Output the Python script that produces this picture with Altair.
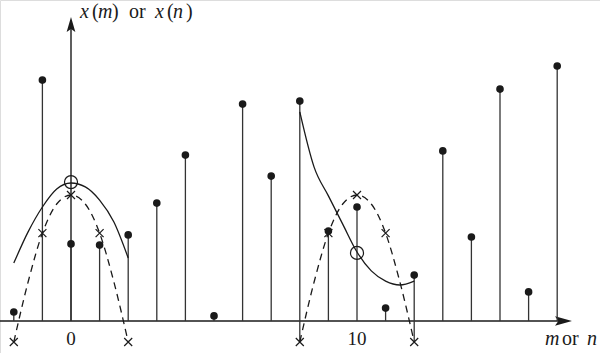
import altair as alt
import pandas as pd

# ---- data ----
stem_n = list(range(-2, 18))
stem_val = [0.30, 8.03, 2.57, 2.53, 2.87, 3.93, 5.53, 0.17, 7.23, 4.83,
            7.33, 3.0, 3.8, 0.43, 1.53, 5.67, 2.8, 7.73, 0.97, 8.5]

drop_n = [8, 12]
drop_low = [-0.7, -0.7]

win_left_n = [-2, -1.5, -1, -0.5, 0, 0.5, 1, 1.5, 2]
win_right_n = [8, 8.5, 9, 9.5, 10, 10.5, 11, 11.5, 12]
win_val = [-0.7, 1.3, 2.93, 3.9, 4.2, 3.9, 2.93, 1.3, -0.7]

mark_left_n = [-2, -1, 0, 1, 2]
mark_right_n = [8, 9, 10, 11, 12]
mark_val = [-0.7, 2.93, 4.2, 2.93, -0.7]

curve_left_n = [-2, -1.5, -1, -0.5, 0, 0.5, 1, 1.5, 2]
curve_left_val = [1.93, 2.97, 3.8, 4.4, 4.6, 4.47, 4.03, 3.3, 2.1]
curve_right_n = [8, 8.5, 9, 9.5, 10, 10.5, 11, 11.5, 12]
curve_right_val = [6.97, 5.13, 4.17, 3.23, 2.3, 1.67, 1.33, 1.2, 1.33]

circle_n = [0, 10]
circle_val = [4.63, 2.27]

tick_n = [0, 10]
tick_text = ["0", "10"]

# axis label pieces (text, style)
ylab_text = ["x", "(", "m", ")", "or", "x", "(", "n", ")"]
ylab_style = ["italic", "normal", "italic", "normal", "normal", "italic", "normal", "italic", "normal"]
ylab_n = [0.315, 0.734, 0.944, 1.434, 2.028, 2.937, 3.357, 3.566, 4.021]
xlab_text = ["m", "or", "n"]
xlab_style = ["italic", "normal", "italic"]
xlab_n = [16.573, 17.168, 18.042]

# ---- scales ----
XS = alt.Scale(domain=[-2.4825, 18.4965], nice=False, zero=False)
YS = alt.Scale(domain=[-1.0667, 10.7], nice=False, zero=False)
INK = "#1a1a1a"
FONT = "Liberation Serif"


def X(f="n"):
    return alt.X(f"{f}:Q", scale=XS, axis=None)


def Y(f="v"):
    return alt.Y(f"{f}:Q", scale=YS, axis=None)


stems = pd.DataFrame({"n": stem_n, "v": stem_val, "z": [0] * len(stem_n)})
drops = pd.DataFrame({"n": drop_n, "v": drop_low, "z": [0] * len(drop_n)})
win = pd.DataFrame({
    "n": win_left_n + win_right_n,
    "v": win_val + win_val,
    "g": ["L"] * len(win_left_n) + ["R"] * len(win_right_n),
})
marks = pd.DataFrame({"n": mark_left_n + mark_right_n, "v": mark_val + mark_val})
curves = pd.DataFrame({
    "n": curve_left_n + curve_right_n,
    "v": curve_left_val + curve_right_val,
    "g": ["L"] * len(curve_left_n) + ["R"] * len(curve_right_n),
})
circles = pd.DataFrame({"n": circle_n, "v": circle_val})
ticks = pd.DataFrame({"n": tick_n, "t": tick_text, "v": [-0.8] * len(tick_n)})
labels = pd.DataFrame({
    "n": ylab_n + xlab_n,
    "t": ylab_text + xlab_text,
    "s": ylab_style + xlab_style,
    "v": [10.1] * len(ylab_n) + [-0.8] * len(xlab_n),
})
axes_h = pd.DataFrame({"n": [-2.4825], "n2": [17.22], "v": [0]})
axes_v = pd.DataFrame({"n": [0], "v": [0], "v2": [9.88]})
arrow_x = pd.DataFrame({"n": [17.22], "v": [0]})
arrow_y = pd.DataFrame({"n": [0], "v": [9.88]})

layers = []

layers.append(alt.Chart(axes_h).mark_rule(color=INK, strokeWidth=1.4).encode(
    x=X(), x2="n2:Q", y=Y()))
layers.append(alt.Chart(axes_v).mark_rule(color=INK, strokeWidth=1.4).encode(
    x=X(), y=Y(), y2="v2:Q"))
layers.append(alt.Chart(arrow_x).mark_point(
    shape="M1,0L-1,0.55L-0.6,0L-1,-0.55Z", size=289, filled=True, color=INK, opacity=1).encode(
    x=X(), y=Y()))
layers.append(alt.Chart(arrow_y).mark_point(
    shape="M0,-1L0.58,1L0,0.6L-0.58,1Z", size=225, filled=True, color=INK, opacity=1).encode(
    x=X(), y=Y()))

layers.append(alt.Chart(stems).mark_rule(color="#333333", strokeWidth=1.3).encode(
    x=X(), y=Y(), y2="z:Q"))
layers.append(alt.Chart(drops).mark_rule(color="#333333", strokeWidth=1.3).encode(
    x=X(), y=Y(), y2="z:Q"))

layers.append(alt.Chart(win).mark_line(
    color=INK, strokeWidth=1.3, strokeDash=[7, 5], interpolate="monotone").encode(
    x=X(), y=Y(), detail="g:N", order="n:Q"))
layers.append(alt.Chart(curves).mark_line(
    color=INK, strokeWidth=1.3, interpolate="monotone").encode(
    x=X(), y=Y(), detail="g:N", order="n:Q"))

layers.append(alt.Chart(marks).mark_point(
    shape="M-1,-1L1,1M-1,1L1,-1", size=64, filled=False, color=INK,
    strokeWidth=1.2, opacity=1).encode(x=X(), y=Y()))
layers.append(alt.Chart(stems).mark_point(
    shape="circle", size=58, filled=True, color=INK, opacity=1).encode(x=X(), y=Y()))
layers.append(alt.Chart(circles).mark_point(
    shape="circle", size=170, filled=False, color=INK, strokeWidth=1.2, opacity=1).encode(
    x=X(), y=Y()))

layers.append(alt.Chart(ticks).mark_text(
    font=FONT, fontSize=19, color=INK, align="center", baseline="alphabetic").encode(
    x=X(), y=Y(), text="t:N"))
for style in ["italic", "normal"]:
    layers.append(alt.Chart(labels).transform_filter(
        alt.datum.s == style).mark_text(
        font=FONT, fontSize=20, fontStyle=style, color=INK, align="left",
        baseline="alphabetic").encode(x=X(), y=Y(), text="t:N"))

chart = alt.layer(*layers).properties(
    width=600, height=353,
    autosize=alt.AutoSizeParams(type="none"),
    padding=0,
).configure_view(stroke=None).configure(background="white")

chart.save("out.html", embed_options={"renderer": "svg", "actions": False})
